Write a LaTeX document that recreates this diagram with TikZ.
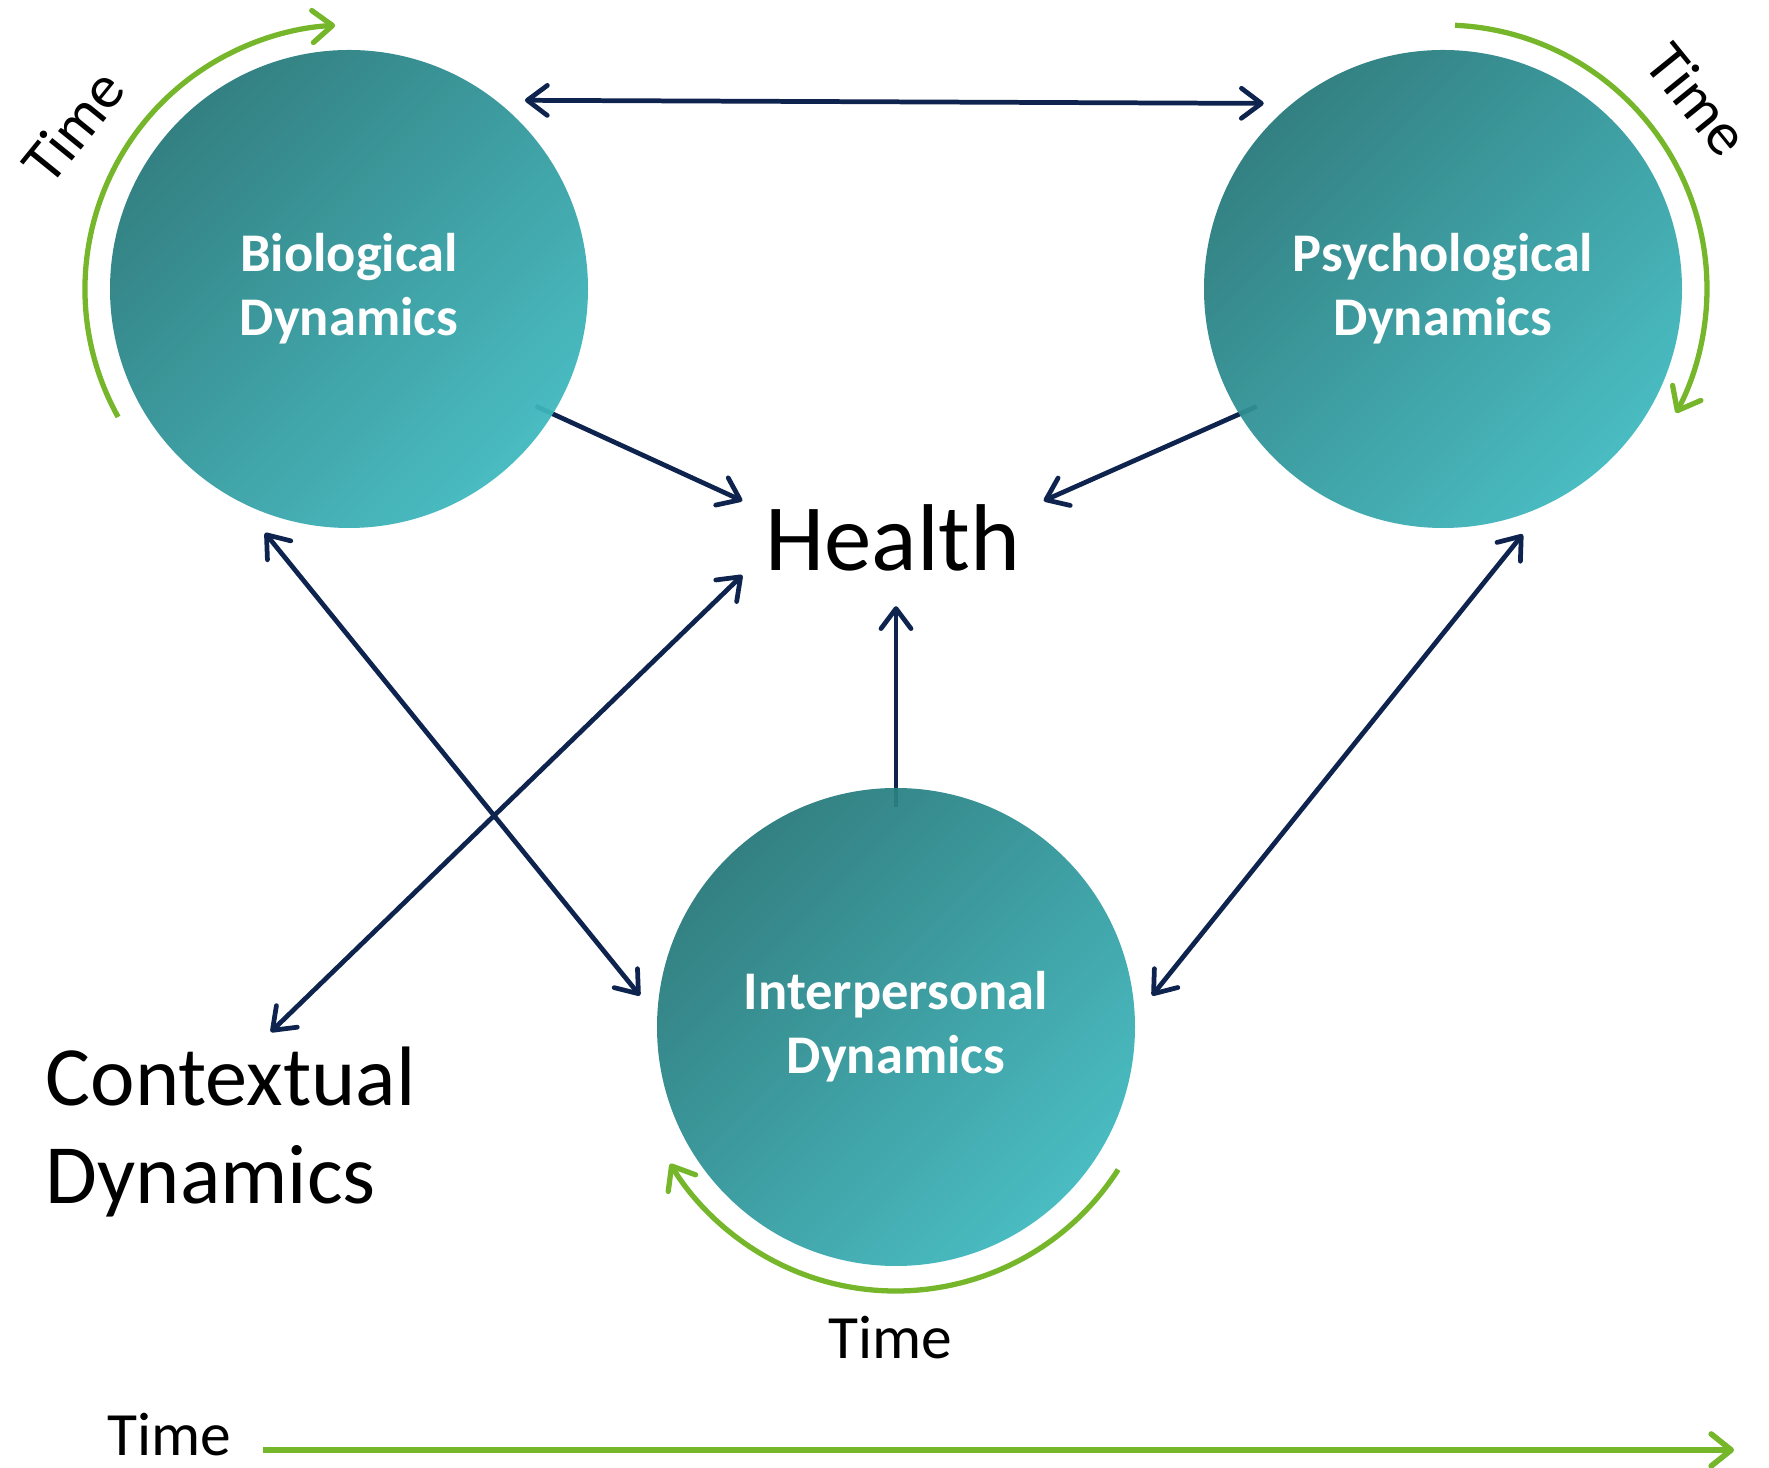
\documentclass[tikz,border=0pt]{standalone}
\usepackage{fontspec}
\setmainfont{Carlito}
\usepackage{tikz}
\usetikzlibrary{arrows.meta,calc,positioning,backgrounds}
\definecolor{tealdark}{RGB}{38,120,122}
\definecolor{teallight}{RGB}{62,184,190}
\definecolor{navy}{RGB}{14,36,78}
\definecolor{leaf}{RGB}{118,182,42}
\tikzset{navytip/.tip={Straight Barb[length=2mm,width=3mm,round]},
  leaftip/.tip={Straight Barb[length=2mm,width=3.2mm,round]},
  dyn/.style={circle,minimum size=47.8mm,inner sep=0pt,outer sep=1.9mm,
    top color=tealdark,bottom color=teallight,shading angle=45,fill opacity=0.94,text opacity=1,
    text=white,align=center,font=\bfseries\fontsize{15.5}{18.2}\selectfont},
  link/.style={navy,line width=1.35pt,-navytip},
  twoway/.style={link,navytip-navytip},
  timearc/.style={leaf,line width=1.5pt,-leaftip},
  timeline/.style={leaf,line width=1.6pt,-leaftip},
  timelbl/.style={inner sep=0pt,font=\fontsize{17.5}{21}\selectfont}}

\begin{document}
\begin{tikzpicture}[x=1mm,y=1mm]
\useasboundingbox (0,0) rectangle (176.9,-146.8);
% the three dynamics and what they feed
\node[dyn] (bio) at (34.9,-28.9) {Biological\\Dynamics};
\node[dyn] (psy) at (144.3,-28.9) {Psychological\\Dynamics};
\node[dyn] (inter) at (89.6,-102.7) {Interpersonal\\Dynamics};
\node[minimum width=30mm,minimum height=7.3mm,inner sep=0pt,font=\fontsize{27}{30}\selectfont] (health) at (89.3,-53.8) {Health};
\node[anchor=north west,align=left,inner sep=0pt,font=\fontsize{24}{27.9}\selectfont] (context) at (4.5,-104.6) {Contextual\\Dynamics};
% links, kept under the circles
\begin{scope}[on background layer]
\draw[twoway] (bio.47.8) -- (psy.134.5);
\draw[twoway] (bio.251) -- (inter.173);
\draw[twoway] (psy.-72) -- (inter.7);
\draw[link,shorten <=-3.8mm] (bio.-31) -- (health.north west);
\draw[link,shorten <=-3.8mm] (psy.211.7) -- (health.north east);
\draw[link,shorten <=-3.8mm,shorten >=3.1mm] (inter.north) -- (inter.north |- health.south);
\draw[twoway] (health.south west) -- ([xshift=4mm,yshift=1.4mm]context.north);
\end{scope}
% time runs round each circle
\draw[timearc] ([shift={(209:26.4)}]bio.center) arc (209:93:26.4);
\draw[timearc] ([shift={(87.4:26.4)}]psy.center) arc (87.4:-28:26.4);
\draw[timearc] ([shift={(-32.7:26.4)}]inter.center) arc (-32.7:-148.8:26.4);
\node[timelbl,rotate=51] (tbio) at (7.3,-12.6) {Time};
\node[timelbl,rotate=-51] (tpsy) at (169.8,-9.9) {Time};
\node[timelbl] (tinter) at (89,-133.8) {Time};
% the long time axis
\node[timelbl] (ttime) at (16.9,-143.5) {Time};
\coordinate (tstart) at (26.3,-145.0);
\coordinate (tend) at (173.4,-145.0);
\draw[timeline] (tstart) -- (tend);
\end{tikzpicture}
\end{document}
